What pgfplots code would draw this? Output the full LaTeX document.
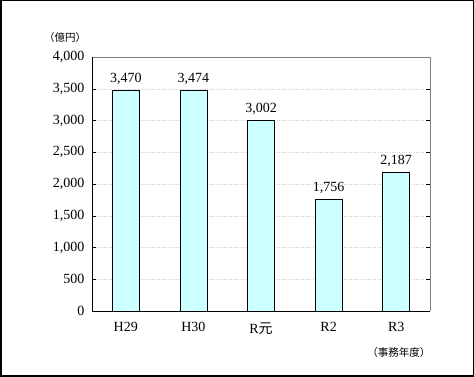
\documentclass[border=0pt]{standalone}
\usepackage{pgfplots}
\pgfplotsset{compat=1.18}
\usepackage{fontspec}
\setmainfont{Liberation Serif}
\newfontfamily\cjk{Noto Sans CJK JP}
\definecolor{barfill}{HTML}{CCFFFF}
\begin{document}
\begin{tikzpicture}[x=1pt,y=1pt]
\path[use as bounding box] (0,0) rectangle (474,377);
\draw[black,line width=1.5pt] (0.75,0.75) rectangle (473.25,376.25);
\begin{axis}[
  at={(92pt,66pt)}, anchor=south west,
  width=338pt, height=254pt, scale only axis,
  xmin=-0.5, xmax=4.5, ymin=0, ymax=4000,
  ytick={0,500,...,4000},
  xtick={0,1,2,3,4},
  xticklabels={H29,H30,{R\cjk{元}},R2,R3},
  extra x ticks={0.5,1.5,2.5,3.5},
  extra x tick labels={},
  extra x tick style={major tick length=4pt, tick style={black}},
  xtick style={draw=none},
  ytick style={black},
  major tick length=4pt,
  tick align=inside,
  ymajorgrids,
  grid style={gray!40, dotted},
  axis line style={draw=none},
  scaled y ticks=false,
  /pgf/number format/assume math mode=true,
  /pgf/number format/1000 sep={,},
  tick label style={font=\fontsize{14}{15}\selectfont},
  xticklabel style={yshift=-8pt},
  yticklabel style={xshift=-4pt},
  clip=false,
  nodes near coords,
  nodes near coords style={font=\fontsize{14}{15}\selectfont, yshift=2pt},
]
\addplot[ybar, bar width=27pt, fill=barfill, draw=black, line width=0.8pt] coordinates {(0,3470) (1,3474) (2,3002) (3,1756) (4,2187)};
\draw[gray, line width=0.8pt] (axis cs:-0.5,4000) -- (axis cs:4.5,4000) -- (axis cs:4.5,0);
\draw[black, line width=0.8pt] (axis cs:-0.5,4000) -- (axis cs:-0.5,0) -- (axis cs:4.5,0);
\end{axis}
\node[font=\cjk\fontsize{10.5}{11}\selectfont] at (65,339.5) {（億円）};
\node[font=\cjk\fontsize{10.5}{11}\selectfont, anchor=east] at (434,24) {（事務年度）};
\end{tikzpicture}
\end{document}
